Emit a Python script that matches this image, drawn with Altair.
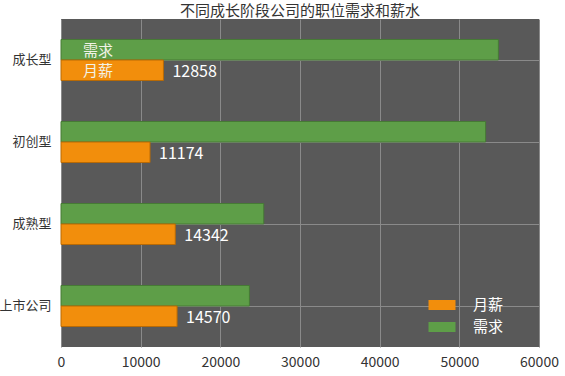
import altair as alt
import pandas as pd

categories = ["成长型", "初创型", "成熟型", "上市公司"]
demand = [54900, 53300, 25450, 23650]
salary = [12858, 11174, 14342, 14570]
series = ["需求", "月薪"]
legend_order = ["月薪", "需求"]
colors = ["#f28e0c", "#5e9e48"]
strokes = ["#b86a05", "#467a35"]

rows = []
for c, d, s in zip(categories, demand, salary):
    rows.append({"cat": c, "series": "需求", "value": d})
    rows.append({"cat": c, "series": "月薪", "value": s})
df = pd.DataFrame(rows)

FONT = "Noto Sans CJK SC"

y_enc = alt.Y("cat:N", sort=categories,
              scale=alt.Scale(paddingInner=0.5, paddingOuter=0.25),
              axis=alt.Axis(title=None, labelFontSize=13, labelColor="#333333",
                            labelPadding=10, ticks=False, domain=False,
                            grid=True, gridColor="#8a8a8a", gridWidth=1,
                            labelFont=FONT))
yoff = alt.YOffset("series:N", sort=series, scale=alt.Scale(paddingInner=0, paddingOuter=0))

x_enc = alt.X("value:Q", scale=alt.Scale(domain=[0, 60000], nice=False),
              axis=alt.Axis(title=None, values=[0, 10000, 20000, 30000, 40000, 50000, 60000],
                            format="d", labelFontSize=14, labelColor="#333333",
                            labelPadding=8, ticks=False, domain=False,
                            grid=True, gridColor="#8a8a8a", gridWidth=1,
                            labelFont=FONT, labelFlush=False))

bars = alt.Chart(df).mark_bar(strokeWidth=1).encode(
    x=x_enc,
    y=y_enc,
    yOffset=yoff,
    color=alt.Color("series:N", scale=alt.Scale(domain=legend_order, range=colors),
                    legend=alt.Legend(title=None, orient="none", legendX=371, legendY=276,
                                      symbolType="M-1.35,-0.5H1.35V0.5H-1.35Z",
                                      symbolSize=400, symbolStrokeWidth=0,
                                      labelFontSize=15, labelColor="#ffffff",
                                      labelOffset=21, rowPadding=4, labelFont=FONT)),
    stroke=alt.Stroke("series:N", scale=alt.Scale(domain=legend_order, range=strokes), legend=None),
)

value_labels = alt.Chart(df).transform_filter(alt.datum.series == "月薪").mark_text(
    align="left", baseline="middle", dx=9, dy=2, fontSize=16, color="#ffffff", font=FONT
).encode(
    x="value:Q", y=alt.Y("cat:N", sort=categories), yOffset=alt.YOffset("series:N", sort=series),
    text=alt.Text("value:Q", format="d"),
)

name_labels = alt.Chart(df).transform_filter(alt.datum.cat == "成长型").mark_text(
    align="left", baseline="middle", dy=1, fontSize=15, color="#f2f2e6", font=FONT
).encode(
    x=alt.value(22), y=alt.Y("cat:N", sort=categories), yOffset=alt.YOffset("series:N", sort=series),
    text="series:N",
)

chart = alt.layer(bars, value_labels, name_labels).properties(
    width=478, height=328,
    title=alt.Title("不同成长阶段公司的职位需求和薪水", fontSize=15, fontWeight="normal",
                    color="#333333", font=FONT, offset=0, anchor="middle"),
    padding={"left": 61, "top": 19, "right": 26, "bottom": 29},
    autosize=alt.AutoSizeParams(type="none"),
    background="#ffffff",
).configure_view(fill="#595959", stroke=None)

chart.save("out.html", embed_options={"renderer": "svg", "actions": False})
